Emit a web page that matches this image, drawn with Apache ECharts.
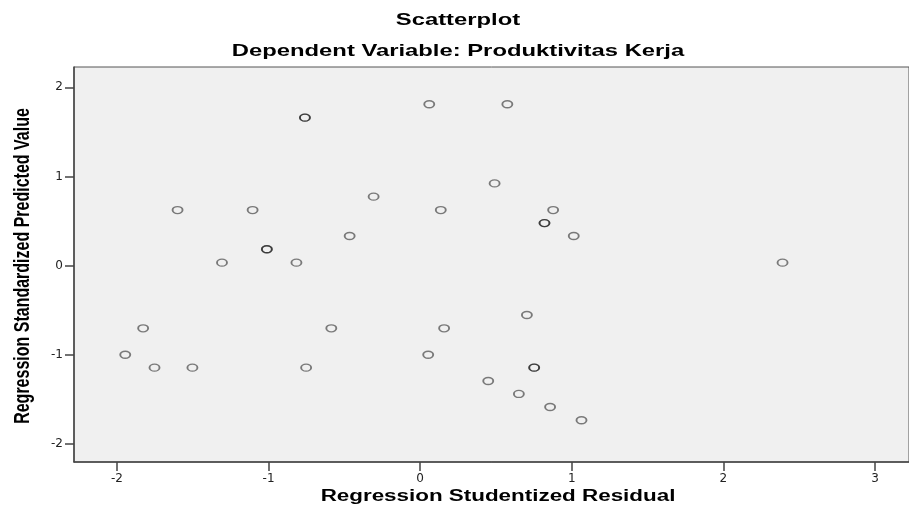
<!DOCTYPE html>
<html>
<head>
<meta charset="utf-8">
<script src="https://cdn.jsdelivr.net/npm/echarts@6/dist/echarts.min.js"></script>
<style>
  html, body { margin: 0; padding: 0; background: #fff; }
  #chart { width: 909px; height: 511px; }
</style>
</head>
<body>
<div id="chart"></div>
<script>
// 数据: 残差 (x) 和 预测值 (y), 重复的点出现两次
var residX = [-0.76, -0.76, 0.06, 0.575, -1.60, -1.105, -0.307, 0.136, 0.491, 0.877,
              0.82, 0.82, 1.013, -0.465, -1.011, -1.011, -1.307, -0.816, 2.39,
              -1.827, -1.945, -1.752, -1.502, -0.586, -0.752, 0.053, 0.158, 0.704,
              0.752, 0.752, 0.449, 0.651, 0.857, 1.064];
var predY  = [1.66, 1.66, 1.81, 1.81, 0.624, 0.624, 0.774, 0.624, 0.923, 0.624,
              0.478, 0.478, 0.333, 0.333, 0.184, 0.184, 0.034, 0.034, 0.034,
              -0.702, -0.998, -1.143, -1.143, -0.702, -1.143, -0.998, -0.702, -0.553,
              -1.143, -1.143, -1.293, -1.438, -1.584, -1.733];
var xTicks = [-2, -1, 0, 1, 2, 3];
var yTicks = [-2, -1, 0, 1, 2];

var titleText = 'Scatterplot';
var subTitleText = 'Dependent Variable: Produktivitas Kerja';
var xName = 'Regression Studentized Residual';
var yName = 'Regression Standardized Predicted Value';

var points = residX.map(function (x, i) { return [x, predY[i]]; });

var chart = echarts.init(document.getElementById('chart'));

var font = '"Liberation Sans", Arial, sans-serif';

// 图像横向被拉伸，标题用 scaleX 模拟
function stretchedText(text, x, y, size, rot) {
    var el = {
        type: 'text',
        x: x,
        y: y,
        silent: true,
        style: {
            text: text,
            fill: '#000',
            font: 'bold ' + size + 'px ' + font,
            align: 'center',
            verticalAlign: 'middle'
        }
    };
    if (rot) {
        el.rotation = Math.PI / 2;
        el.scaleY = 1.4;
    } else {
        el.scaleX = 1.4;
    }
    return el;
}

var option = {
    backgroundColor: '#fff',
    animation: false,
    grid: {
        left: 74,
        top: 67,
        right: -2,
        bottom: 49,
        show: true,
        backgroundColor: '#f0f0f0',
        borderColor: '#555',
        borderWidth: 1
    },
    xAxis: {
        type: 'value',
        min: -2.283,
        max: 3.224,
        splitLine: { show: false },
        axisLine: { onZero: false, lineStyle: { color: '#444', width: 1.5 } },
        axisTick: { length: 9, customValues: xTicks, lineStyle: { color: '#444', width: 1.5 } },
        axisLabel: {
            customValues: xTicks,
            margin: 11,
            color: '#222',
            fontSize: 12,
            fontFamily: '"DejaVu Sans", sans-serif'
        }
    },
    yAxis: {
        type: 'value',
        min: -2.201,
        max: 2.228,
        splitLine: { show: false },
        axisLine: { onZero: false, lineStyle: { color: '#444', width: 1.5 } },
        axisTick: { length: 9, customValues: yTicks, lineStyle: { color: '#444', width: 1.5 } },
        axisLabel: {
            customValues: yTicks,
            margin: 11,
            color: '#222',
            fontSize: 12,
            fontFamily: '"DejaVu Sans", sans-serif'
        }
    },
    series: [{
        type: 'scatter',
        data: points,
        symbol: 'circle',
        symbolSize: [10, 7],
        itemStyle: {
            color: 'rgba(0,0,0,0)',
            borderColor: 'rgba(0,0,0,0.62)',
            borderWidth: 1.6
        }
    }],
    graphic: [
        stretchedText(titleText, 458, 20, 17),
        stretchedText(subTitleText, 458, 51, 17),
        stretchedText(xName, 498, 497, 16),
        stretchedText(yName, 23, 266, 16, true)
    ]
};

chart.setOption(option);
</script>
</body>
</html>
